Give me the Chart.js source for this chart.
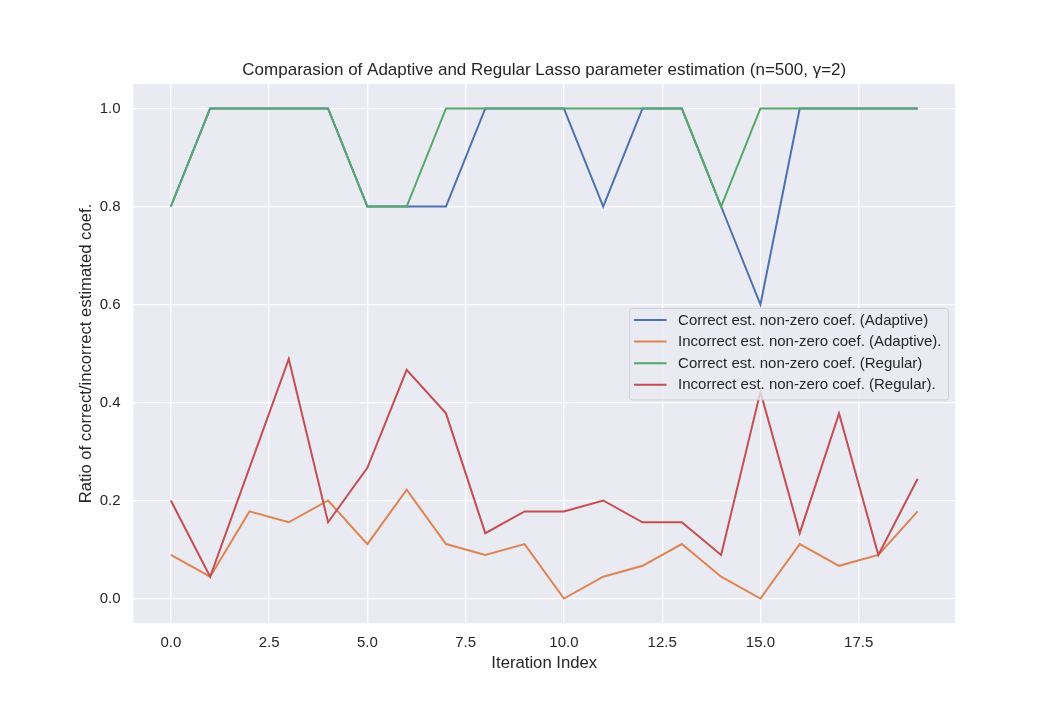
<!DOCTYPE html>
<html>
<head>
<meta charset="utf-8">
<title>Adaptive vs Regular Lasso</title>
<script src="https://cdn.jsdelivr.net/npm/chart.js@4.4.1/dist/chart.umd.min.js"></script>
<style>
  html, body { margin: 0; padding: 0; background: #ffffff; }
  #chart { display: block; }
</style>
</head>
<body>
<canvas id="chart" width="1062" height="701"></canvas>
<script>
// values (multiples of 1/45 for the "incorrect" series)
const iterations = [0, 1, 2, 3, 4, 5, 6, 7, 8, 9, 10, 11, 12, 13, 14, 15, 16, 17, 18, 19];
const correctAdaptive = [0.8, 1, 1, 1, 1, 0.8, 0.8, 0.8, 1, 1, 1, 0.8, 1, 1, 0.8, 0.6, 1, 1, 1, 1];
const incorrectAdaptive = [0.0889, 0.0444, 0.1778, 0.1556, 0.2, 0.1111, 0.2222, 0.1111, 0.0889, 0.1111,
  0, 0.0444, 0.0667, 0.1111, 0.0444, 0, 0.1111, 0.0667, 0.0889, 0.1778];
const correctRegular = [0.8, 1, 1, 1, 1, 0.8, 0.8, 1, 1, 1, 1, 1, 1, 1, 0.8, 1, 1, 1, 1, 1];
const incorrectRegular = [0.2, 0.0444, 0.2667, 0.4889, 0.1556, 0.2667, 0.4667, 0.3778, 0.1333, 0.1778,
  0.1778, 0.2, 0.1556, 0.1556, 0.0889, 0.4222, 0.1333, 0.3778, 0.0889, 0.2444];

const seriesNames = [
  "Correct est. non-zero coef. (Adaptive)",
  "Incorrect est. non-zero coef. (Adaptive).",
  "Correct est. non-zero coef. (Regular)",
  "Incorrect est. non-zero coef. (Regular).",
];
const seriesColors = ["#4C72B0", "#DD8452", "#55A868", "#C44E52"];

const xTicks = [0, 2.5, 5, 7.5, 10, 12.5, 15, 17.5];
const yTicks = [0, 0.2, 0.4, 0.6, 0.8, 1.0];

const chartTitle = "Comparasion of Adaptive and Regular Lasso parameter estimation (n=500, γ=2)";

const FONT = "'Liberation Sans', Arial, sans-serif";
const TEXT = "#262626";

function toPoints(values) {
  return values.map((v, i) => ({ x: iterations[i], y: v }));
}

// grey-blue plot background like seaborn darkgrid
const plotBackground = {
  id: "plotBackground",
  beforeDraw(chart) {
    const { ctx, chartArea } = chart;
    ctx.save();
    ctx.fillStyle = "#EAEAF2";
    ctx.fillRect(chartArea.left, chartArea.top, chartArea.right - chartArea.left, chartArea.bottom - chartArea.top);
    ctx.restore();
  },
};

// title centred over the axes, not the whole canvas
const axesTitle = {
  id: "axesTitle",
  afterDraw(chart) {
    const { ctx, chartArea } = chart;
    ctx.save();
    ctx.font = "17px " + FONT;
    ctx.fillStyle = TEXT;
    ctx.textAlign = "center";
    ctx.textBaseline = "middle";
    ctx.fillText(chartTitle, (chartArea.left + chartArea.right) / 2, chartArea.top - 14);
    ctx.restore();
  },
};

// legend drawn inside the axes, on top of the lines
const insideLegend = {
  id: "insideLegend",
  afterDatasetsDraw(chart) {
    const { ctx, chartArea } = chart;
    const sets = chart.data.datasets;
    ctx.save();
    ctx.font = "15px " + FONT;
    const widest = Math.max(...sets.map((d) => ctx.measureText(d.label).width));
    const boxW = 48.5 + widest + 7;
    const boxH = 91.5;
    const right = chartArea.right - 6.5;
    const left = right - boxW;
    const top = chartArea.top + 224.5;

    ctx.beginPath();
    ctx.roundRect(left, top, boxW, boxH, 3);
    ctx.fillStyle = "rgba(234,234,242,0.8)";
    ctx.fill();
    ctx.strokeStyle = "rgba(204,204,204,0.8)";
    ctx.lineWidth = 1;
    ctx.stroke();

    ctx.textBaseline = "middle";
    ctx.textAlign = "left";
    sets.forEach((d, i) => {
      const y = top + 11.5 + i * 21.6;
      ctx.beginPath();
      ctx.moveTo(left + 4.5, y);
      ctx.lineTo(left + 37, y);
      ctx.strokeStyle = d.borderColor;
      ctx.lineWidth = 2;
      ctx.stroke();
      ctx.fillStyle = TEXT;
      ctx.fillText(d.label, left + 48.5, y + 0.5);
    });
    ctx.restore();
  },
};

function mainEvent() {
  const target = document.getElementById("chart");
  const allSeries = [correctAdaptive, incorrectAdaptive, correctRegular, incorrectRegular];

  new Chart(target, {
    type: "line",
    data: {
      datasets: allSeries.map((values, i) => ({
        label: seriesNames[i],
        data: toPoints(values),
        borderColor: seriesColors[i],
        backgroundColor: seriesColors[i],
        borderWidth: 2,
        pointRadius: 0,
        tension: 0,
        fill: false,
        order: allSeries.length - 1 - i, // later series on top, like matplotlib
      })),
    },
    options: {
      responsive: false,
      devicePixelRatio: 1,
      animation: false,
      layout: { padding: { left: 0, right: 107, top: 84, bottom: 0 } },
      plugins: {
        legend: { display: false },
        tooltip: { enabled: false },
        title: { display: false },
      },
      scales: {
        x: {
          type: "linear",
          min: -0.95,
          max: 19.95,
          afterBuildTicks: (scale) => { scale.ticks = xTicks.map((v) => ({ value: v })); },
          afterFit: (scale) => { scale.height = 78; },
          grid: { color: "#ffffff", lineWidth: 1.3, drawTicks: false },
          border: { display: false },
          ticks: {
            color: TEXT,
            padding: 11,
            font: { family: FONT, size: 15 },
            maxRotation: 0,
            callback: (v) => Number(v).toFixed(1),
          },
          title: {
            display: true,
            text: "Iteration Index",
            color: TEXT,
            font: { family: FONT, size: 16.7 },
            padding: { top: 0, bottom: 28 },
          },
        },
        y: {
          type: "linear",
          min: -0.05,
          max: 1.05,
          afterBuildTicks: (scale) => { scale.ticks = yTicks.map((v) => ({ value: v })); },
          afterFit: (scale) => { scale.width = 133.5; },
          grid: { color: "#ffffff", lineWidth: 1.3, drawTicks: false },
          border: { display: false },
          ticks: {
            color: TEXT,
            padding: 13,
            font: { family: FONT, size: 15 },
            callback: (v) => Number(v).toFixed(1),
          },
          title: {
            display: true,
            text: "Ratio of correct/incorrect estimated coef.",
            color: TEXT,
            font: { family: FONT, size: 16.7 },
            padding: { top: 76, bottom: 0 },
          },
        },
      },
    },
    plugins: [plotBackground, insideLegend, axesTitle],
  });
}

document.addEventListener("DOMContentLoaded", () => mainEvent());
</script>
</body>
</html>
